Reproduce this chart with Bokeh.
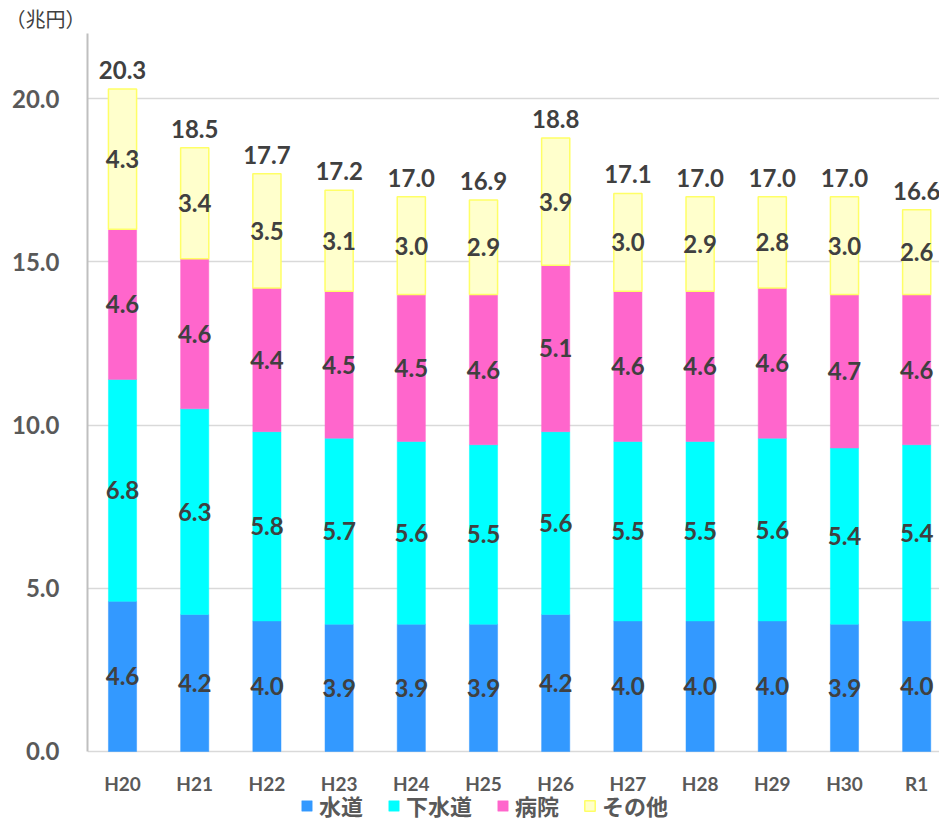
from bokeh.plotting import figure
from bokeh.models import (ColumnDataSource, Range1d, FixedTicker, PrintfTickFormatter,
                          Legend, LegendItem, Title)
from bokeh.core.properties import value
from bokeh.embed import file_html
from bokeh.resources import INLINE

categories = ["H20", "H21", "H22", "H23", "H24", "H25", "H26", "H27", "H28", "H29", "H30", "R1"]
water = [4.6, 4.2, 4.0, 3.9, 3.9, 3.9, 4.2, 4.0, 4.0, 4.0, 3.9, 4.0]
sewer = [6.8, 6.3, 5.8, 5.7, 5.6, 5.5, 5.6, 5.5, 5.5, 5.6, 5.4, 5.4]
hospital = [4.6, 4.6, 4.4, 4.5, 4.5, 4.6, 5.1, 4.6, 4.6, 4.6, 4.7, 4.6]
other = [4.3, 3.4, 3.5, 3.1, 3.0, 2.9, 3.9, 3.0, 2.9, 2.8, 3.0, 2.6]
totals = [20.3, 18.5, 17.7, 17.2, 17.0, 16.9, 18.8, 17.1, 17.0, 17.0, 17.0, 16.6]
series_names = ["水道", "下水道", "病院", "その他"]
y_ticks = [0, 5, 10, 15, 20]

series = [water, sewer, hospital, other]
fills = ["#3399ff", "#00ffff", "#ff66cc", "#ffffcc"]
lines = ["#3399ff", "#00ffff", "#ff66cc", "#ffff66"]

NUM_FONT = "Lato"
CJK_FONT = "Noto Sans CJK JP"

xs = list(range(len(categories)))

# frame spans from y=33 to the window bottom; value 0 sits at pixel 751
p = figure(frame_width=852, frame_height=789, output_backend="svg", toolbar_location=None,
           x_range=Range1d(-0.485, 11.316), y_range=Range1d(-2.1755, 22),
           min_border_left=87, min_border_right=0, min_border_top=33,
           min_border_bottom=0)
p.outline_line_color = None
p.background_fill_color = "white"
p.border_fill_color = "white"

# stacked bars
bottoms = [0.0] * len(categories)
renderers = []
for vals, fc, lc in zip(series, fills, lines):
    tops = [b + v for b, v in zip(bottoms, vals)]
    mids = [(b + t) / 2 for b, t in zip(bottoms, tops)]
    src = ColumnDataSource(dict(x=xs, bottom=bottoms, top=tops, mid=mids,
                                lab=["%.1f" % v for v in vals]))
    r = p.vbar(x="x", bottom="bottom", top="top", width=0.39, source=src,
               fill_color=fc, line_color=lc, line_width=1.5 if lc != fc else 0.5)
    renderers.append(r)
    p.text(x="x", y="mid", text="lab", source=src, text_align="center",
           text_baseline="middle", text_font=value(NUM_FONT), text_font_style="bold",
           text_font_size="24px", text_color="#404040")
    bottoms = tops

tsrc = ColumnDataSource(dict(x=xs, y=totals, lab=["%.1f" % t for t in totals]))
p.text(x="x", y="y", text="lab", source=tsrc, text_align="center",
       text_baseline="alphabetic", y_offset=-19, text_font=value(NUM_FONT),
       text_font_style="bold", text_font_size="24px", text_color="#404040")

# category labels under the bars
csrc = ColumnDataSource(dict(x=xs, y=[0] * len(xs), lab=categories))
p.text(x="x", y="y", text="lab", source=csrc, text_align="center",
       text_baseline="middle", y_offset=32, text_font=value(NUM_FONT),
       text_font_style="bold", text_font_size="19px", text_color="#595959")

# axes
p.xaxis.visible = False
p.yaxis.ticker = FixedTicker(ticks=y_ticks)
p.yaxis.formatter = PrintfTickFormatter(format="%.1f")
p.yaxis.bounds = (0, 22)
p.yaxis.major_tick_line_color = None
p.yaxis.minor_tick_line_color = None
p.yaxis.axis_line_color = "#bfbfbf"
p.yaxis.axis_line_width = 2
p.yaxis.major_label_text_font = NUM_FONT
p.yaxis.major_label_text_font_style = "bold"
p.yaxis.major_label_text_font_size = "24px"
p.yaxis.major_label_text_color = "#595959"
p.yaxis.major_label_standoff = 22

p.xgrid.grid_line_color = None
p.ygrid.ticker = FixedTicker(ticks=y_ticks)
p.ygrid.grid_line_color = "#d9d9d9"
p.ygrid.grid_line_width = 1.5

# unit title
t = Title(text="（兆円）", align="left", offset=-82, text_font=CJK_FONT,
          text_font_size="20px", text_font_style="normal", text_color="#404040",
          standoff=2)
p.add_layout(t, "above")

legend = Legend(items=[LegendItem(label=n, renderers=[r]) for n, r in zip(series_names, renderers)],
                orientation="horizontal", location=(213, 1))
legend.label_text_font = CJK_FONT
legend.label_text_font_style = "bold"
legend.label_text_font_size = "22px"
legend.label_text_color = "#595959"
legend.label_height = 18
legend.glyph_width = 13
legend.glyph_height = 13
legend.label_standoff = 6
legend.spacing = 24
legend.padding = 0
legend.margin = 0
legend.border_line_alpha = 0
legend.background_fill_alpha = 0
p.add_layout(legend, "center")

open("out.html", "w").write(file_html(p, INLINE))
